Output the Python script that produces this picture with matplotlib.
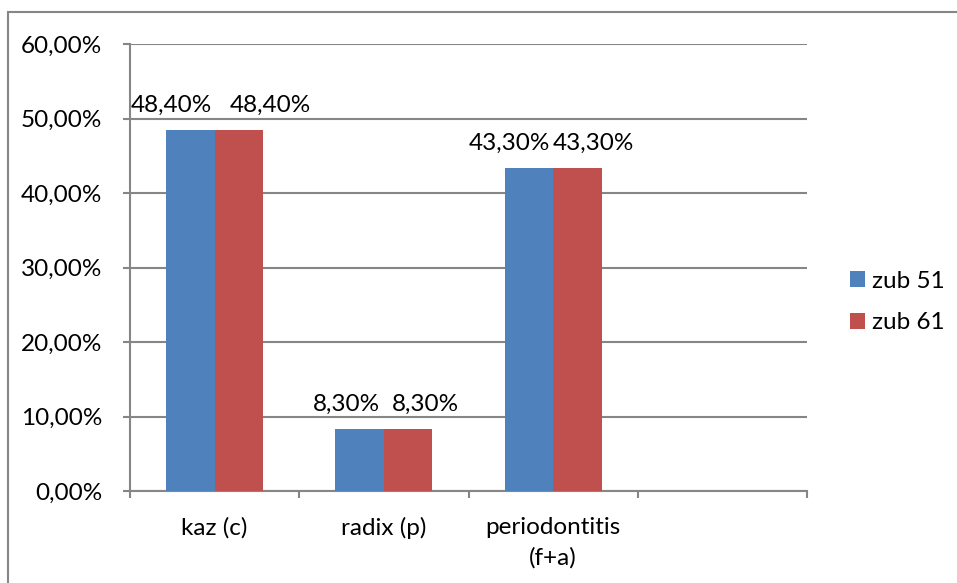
import matplotlib.pyplot as plt
import numpy as np
from matplotlib.patches import Rectangle

plt.rcParams['font.family'] = ['Lato', 'DejaVu Sans']

categories = ['kaz (c)', 'radix (p)', 'periodontitis\n(f+a)', '']
zub_51 = [48.4, 8.3, 43.3, None]
zub_61 = [48.4, 8.3, 43.3, None]
series = [('zub 51', zub_51, '#4F81BD'), ('zub 61', zub_61, '#C0504D')]
y_ticks = [0, 10, 20, 30, 40, 50, 60]

# sideways nudge of the value labels (pixels), so neighbouring labels don't collide
label_dx = [[-19, -13, -20], [32, 17, 16]]

grid_col = '#868686'
fs = 17.5

fig = plt.figure(figsize=(9.57, 5.83), dpi=100)
ax = fig.add_axes([130 / 957, 1 - 491 / 583, (807 - 130) / 957, (491 - 44) / 583])

# outer chart border
fig.patches.append(Rectangle((8 / 957, -0.1), 1.2, 1 - 12 / 583 + 0.1,
                             transform=fig.transFigure, fill=False,
                             edgecolor=grid_col, linewidth=1.5))

x = np.arange(len(categories))
bw = 0.286
for i, (name, vals, col) in enumerate(series):
    off = (i - 0.5) * bw
    xs = [xi + off for xi, v in zip(x, vals) if v is not None]
    vs = [v for v in vals if v is not None]
    bars = ax.bar(xs, vs, width=bw, color=col, label=name, zorder=3)
    for j, (b, v) in enumerate(zip(bars, vs)):
        ax.annotate(f'{v:.2f}%'.replace('.', ','),
                    (b.get_x() + b.get_width() / 2, v),
                    xytext=(label_dx[i][j], 25), textcoords='offset pixels',
                    ha='center', va='center', fontsize=fs)

ax.set_xlim(-0.5, len(categories) - 0.5)
ax.set_ylim(0, 60)
ax.set_yticks(y_ticks)
ax.set_yticklabels([f'{t:.2f}%'.replace('.', ',') for t in y_ticks], fontsize=fs)
ax.yaxis.grid(True, color=grid_col, linewidth=1.5, zorder=0)

ax.set_xticks(np.arange(len(categories) + 1) - 0.5)
ax.set_xticklabels([])
ax.set_xticks(x, minor=True)
ax.set_xticklabels(categories, minor=True, fontsize=fs, va='top', linespacing=1.5)
ax.tick_params(axis='x', which='minor', length=0, pad=19)
ax.tick_params(axis='x', which='major', length=5, width=1.5, color=grid_col)
ax.tick_params(axis='y', length=5, width=1.5, color=grid_col, pad=15)

for s in ['top', 'right']:
    ax.spines[s].set_visible(False)
for s in ['left', 'bottom']:
    ax.spines[s].set_color(grid_col)
    ax.spines[s].set_linewidth(1.5)

ax.legend(loc='center left', bbox_to_anchor=(850 / 957, 1 - 302 / 583),
          bbox_transform=fig.transFigure, frameon=False, fontsize=fs,
          handlelength=0.62, handleheight=0.62, handletextpad=0.3,
          labelspacing=0.85, borderpad=0, borderaxespad=0)

fig.savefig('out.png', dpi=100)
